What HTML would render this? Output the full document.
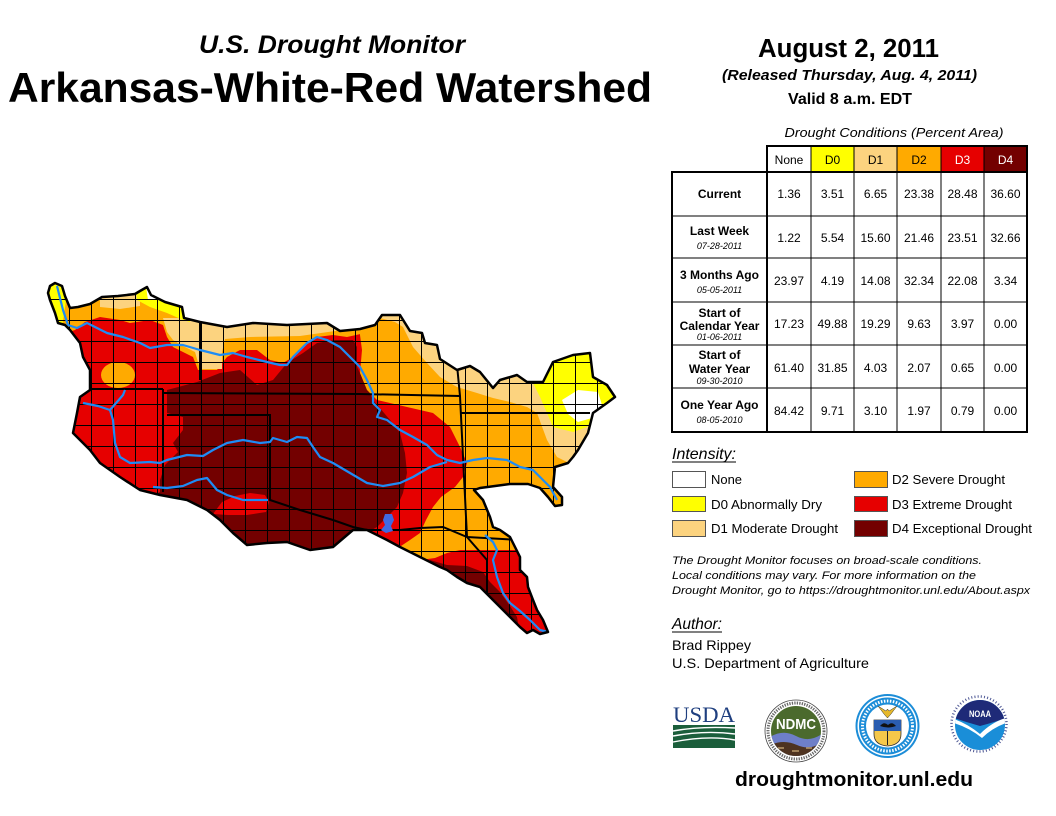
<!DOCTYPE html>
<html><head><meta charset="utf-8">
<style>
html,body{margin:0;padding:0;background:#fff;}
svg{display:block;}
</style></head>
<body>
<svg width="1056" height="816" viewBox="0 0 1056 816" xmlns="http://www.w3.org/2000/svg" font-family="'Liberation Sans', Arial, sans-serif">
<defs>
  <clipPath id="ws">
    <polygon id="outlineP" points="55,283 62,286 65,296 70,308 78,307 90,304 102,297 118,296 135,294 140,291 147,287 151,295 165,302 182,307 184,318 200,322 227,327 253,323 287,325 327,323 340,331 360,329 375,325 382,315 400,315 410,331 422,333 425,343 437,345 440,359 457,370 470,366 480,372 493,388 500,380 517,375 527,382 543,382 553,362 573,355 590,353 593,377 607,385 615,397 607,403 593,413 588,433 578,450 573,457 568,463 555,467 553,487 562,497 562,505 555,506 548,497 540,488 528,484 510,484 495,486 480,488 474,490 483,500 490,517 493,527 500,530 510,537 515,547 520,557 520,570 527,577 528,587 533,600 537,610 543,620 548,632 540,634 533,630 527,633 520,627 510,617 500,607 490,597 480,587 467,583 457,577 447,570 440,567 420,557 400,547 387,540 367,530 353,530 333,547 310,550 287,542 267,543 247,545 233,533 220,520 207,510 187,500 160,495 140,490 120,477 100,463 90,450 83,443 73,433 77,413 80,397 90,390 90,370 83,357 80,343 70,330 65,325 58,323 55,313 50,300 48,293 50,286"/>
  </clipPath>
  <pattern id="cty" patternUnits="userSpaceOnUse" width="22" height="21" x="3" y="5">
    <path d="M0 0.5H22M0.5 0V21" stroke="#000" stroke-width="1" fill="none"/>
  </pattern>
  <clipPath id="ndmcC"><circle cx="796" cy="731" r="25"/></clipPath>
  <clipPath id="noaaC"><circle cx="980" cy="725" r="25"/></clipPath>
</defs>

<!-- Titles -->
<text x="199" y="53" font-size="25" font-weight="bold" font-style="italic" textLength="266" lengthAdjust="spacingAndGlyphs">U.S. Drought Monitor</text>
<text x="8" y="102" font-size="42" font-weight="bold" textLength="644" lengthAdjust="spacingAndGlyphs">Arkansas-White-Red Watershed</text>
<text x="758" y="57" font-size="25.5" font-weight="bold" textLength="181" lengthAdjust="spacingAndGlyphs">August 2, 2011</text>
<text x="722" y="80" font-size="15" font-weight="bold" font-style="italic" textLength="255" lengthAdjust="spacingAndGlyphs">(Released Thursday, Aug. 4, 2011)</text>
<text x="788" y="104" font-size="15.5" font-weight="bold" textLength="124" lengthAdjust="spacingAndGlyphs">Valid 8 a.m. EDT</text>

<!-- Map -->
<g clip-path="url(#ws)">
  <rect x="30" y="270" width="620" height="380" fill="#E60000"/>
  <ellipse cx="118" cy="375" rx="17" ry="13" fill="#FFAA00"/>
  <polygon fill="#FFAA00" points="40,270 365,270 365,333 347,337 333,335 317,337 307,343 293,357 283,363 270,360 257,350 240,350 227,357 217,370 198,370 193,357 183,352 173,347 167,337 163,325 150,320 130,323 120,320 100,317 85,322 75,330 60,335 40,335"/>
  <polygon fill="#730000" points="167,390 197,382 220,373 240,370 257,385 273,380 287,363 303,353 317,343 335,340 353,340 357,347 357,367 367,387 373,400 390,420 400,433 405,453 407,473 403,493 397,507 387,517 377,527 363,535 350,545 345,600 150,600 150,497 160,492 160,480 165,465 178,452 173,443 183,430 183,417 167,413"/>
  <polygon fill="#E60000" points="213,514 222,502 235,496 250,493 265,495 269,502 266,512 247,515 228,515"/>
  <polygon fill="#FFAA00" points="360,270 650,270 650,548 520,550 460,550 447,553 435,558 420,560 405,556 398,548 410,540 420,533 426,520 433,507 441,497 455,487 463,477 467,463 460,447 450,427 433,413 407,407 377,400 367,390 360,373 362,350 360,335"/>
  <polygon fill="#730000" points="430,560 447,565 467,566 483,572 490,582 500,592 510,606 517,617 522,645 430,645"/>
  <polygon fill="#FCD37F" points="100,290 140,290 140,306 120,309 100,307"/>
  <polygon fill="#FCD37F" points="163,318 180,318 200,322 290,322 330,322 342,330 300,336 250,337 225,339 222,352 222,369 200,369 195,352 183,346 173,340 167,332"/>
  <polygon fill="#FCD37F" points="375,300 380,318 395,322 403,327 413,347 427,363 440,377 457,387 477,393 493,398 510,402 527,407 537,413 547,440 557,457 567,462 580,470 630,470 630,300"/>
  <polygon fill="#FFFF00" points="40,270 66,270 66,300 64,315 62,326 40,330"/>
  <polygon fill="#FFFF00" points="135,280 190,280 190,322 183,320 167,313 150,307 137,300"/>
  <polygon fill="#FFFF00" points="533,383 540,397 547,413 553,427 573,432 587,427 597,412 625,405 625,340 548,340"/>
  <polygon fill="#FFFFFF" points="562,400 578,390 598,392 602,405 592,418 578,422 568,414"/>
  <polygon fill="#FFFFFF" points="145,280 156,280 157,299 148,300"/>
  <rect x="30" y="270" width="620" height="380" fill="url(#cty)"/>
  <g stroke="#000" stroke-width="2" fill="none">
    <polyline points="90,389 163,389"/>
    <polyline points="163,389 163,492"/>
    <polyline points="200,320 200,380"/>
    <polyline points="163,393 360,394 460,396"/>
    <polyline points="457,365 460,396 467,537 487,560 487,595"/>
    <polyline points="460,413 590,413"/>
    <polyline points="167,415 270,415 270,500 300,510 333,520 353,527 367,530 400,530 420,528 443,527 467,537 520,540"/>
  </g>
</g>
<g stroke="#1E8CF5" stroke-width="2.2" fill="none" stroke-linejoin="round">
  <polyline points="57,286 60,298 63,310 68,325 77,328 87,323 97,328 107,333 123,337 140,343 150,348 167,345 183,345 200,350 220,355 233,353 247,357 267,362 280,365 287,365 293,357 307,343 317,337 327,340 340,347 350,357 360,367 367,380 373,393 373,403 380,410 377,417 387,420 400,430 413,437 427,445 437,455 447,460 460,463 473,460 487,458 507,460 520,467 533,470 543,480 550,487 557,500"/>
  <polyline points="83,403 98,406 110,410 113,420 115,443 120,457 130,463 150,462 160,463 167,460 187,455 203,456 213,450 227,443 243,440 260,443 270,442 273,438 287,442 297,437 307,438 313,447 320,457 333,463 350,473 367,483 383,486 400,483 413,477 430,467 447,462"/>
  <polyline points="110,410 117,402 123,395 125,390"/>
  <polyline points="153,487 167,488 183,486 197,480 207,478 217,490 227,495 243,500 257,500 268,500"/>
  <polyline points="485,535 493,542 497,550 493,560 497,577 503,593 510,603 520,611 530,620 540,630 548,632"/>
</g>
<polygon fill="#4169E1" points="385,514 392,514 394,520 391,526 393,531 386,533 381,530 385,525 383,520"/>
<use href="#outlineP" fill="none" stroke="#000" stroke-width="2.5" stroke-linejoin="round"/>

<!-- Table -->
<text x="894" y="137" font-size="13" font-style="italic" text-anchor="middle" textLength="219" lengthAdjust="spacingAndGlyphs">Drought Conditions (Percent Area)</text>
<rect x="811" y="146" width="43" height="26" fill="#FFFF00"/>
<rect x="854" y="146" width="43" height="26" fill="#FCD37F"/>
<rect x="897" y="146" width="44" height="26" fill="#FFAA00"/>
<rect x="941" y="146" width="43" height="26" fill="#E60000"/>
<rect x="984" y="146" width="43" height="26" fill="#730000"/>
<g stroke="#000" fill="none">
  <rect x="767" y="146" width="260" height="26" stroke-width="2"/>
  <rect x="672" y="172" width="355" height="260" stroke-width="2"/>
  <line x1="767" y1="172" x2="767" y2="432" stroke-width="2"/>
  <g stroke-width="1">
    <line x1="811" y1="146" x2="811" y2="432"/>
    <line x1="854" y1="146" x2="854" y2="432"/>
    <line x1="897" y1="146" x2="897" y2="432"/>
    <line x1="941" y1="146" x2="941" y2="432"/>
    <line x1="984" y1="146" x2="984" y2="432"/>
    <line x1="672" y1="216" x2="1027" y2="216"/>
    <line x1="672" y1="258" x2="1027" y2="258"/>
    <line x1="672" y1="302" x2="1027" y2="302"/>
    <line x1="672" y1="345" x2="1027" y2="345"/>
    <line x1="672" y1="388" x2="1027" y2="388"/>
  </g>
</g>
<g font-size="12" text-anchor="middle">
  <text x="789" y="164">None</text>
  <text x="832.5" y="164">D0</text>
  <text x="875.5" y="164">D1</text>
  <text x="919" y="164">D2</text>
  <text x="962.5" y="164" fill="#fff">D3</text>
  <text x="1005.5" y="164" fill="#fff">D4</text>
</g>
<g font-size="12" font-weight="bold" text-anchor="middle">
  <text x="719.5" y="198">Current</text>
  <text x="719.5" y="235">Last Week</text>
  <text x="719.5" y="279">3 Months Ago</text>
  <text x="719.5" y="317">Start of</text>
  <text x="719.5" y="330">Calendar Year</text>
  <text x="719.5" y="359">Start of</text>
  <text x="719.5" y="373">Water Year</text>
  <text x="719.5" y="409">One Year Ago</text>
</g>
<g font-size="9" font-style="italic" text-anchor="middle">
  <text x="719.5" y="249">07-28-2011</text>
  <text x="719.5" y="293">05-05-2011</text>
  <text x="719.5" y="340">01-06-2011</text>
  <text x="719.5" y="384">09-30-2010</text>
  <text x="719.5" y="423">08-05-2010</text>
</g>
<g font-size="12" text-anchor="middle">
  <text x="789" y="198">1.36</text><text x="832.5" y="198">3.51</text><text x="875.5" y="198">6.65</text><text x="919" y="198">23.38</text><text x="962.5" y="198">28.48</text><text x="1005.5" y="198">36.60</text>
  <text x="789" y="242">1.22</text><text x="832.5" y="242">5.54</text><text x="875.5" y="242">15.60</text><text x="919" y="242">21.46</text><text x="962.5" y="242">23.51</text><text x="1005.5" y="242">32.66</text>
  <text x="789" y="285">23.97</text><text x="832.5" y="285">4.19</text><text x="875.5" y="285">14.08</text><text x="919" y="285">32.34</text><text x="962.5" y="285">22.08</text><text x="1005.5" y="285">3.34</text>
  <text x="789" y="328">17.23</text><text x="832.5" y="328">49.88</text><text x="875.5" y="328">19.29</text><text x="919" y="328">9.63</text><text x="962.5" y="328">3.97</text><text x="1005.5" y="328">0.00</text>
  <text x="789" y="372">61.40</text><text x="832.5" y="372">31.85</text><text x="875.5" y="372">4.03</text><text x="919" y="372">2.07</text><text x="962.5" y="372">0.65</text><text x="1005.5" y="372">0.00</text>
  <text x="789" y="415">84.42</text><text x="832.5" y="415">9.71</text><text x="875.5" y="415">3.10</text><text x="919" y="415">1.97</text><text x="962.5" y="415">0.79</text><text x="1005.5" y="415">0.00</text>
</g>

<!-- Legend -->
<text x="672" y="459" font-size="16" font-style="italic" textLength="64" lengthAdjust="spacingAndGlyphs">Intensity:</text>
<line x1="672" y1="462" x2="736" y2="462" stroke="#000" stroke-width="1"/>
<g stroke="#555" stroke-width="1">
  <rect x="672.5" y="471.5" width="33" height="16" fill="#FFFFFF"/>
  <rect x="672.5" y="496.5" width="33" height="15" fill="#FFFF00"/>
  <rect x="672.5" y="520.5" width="33" height="16" fill="#FCD37F"/>
  <rect x="854.5" y="471.5" width="33" height="16" fill="#FFAA00"/>
  <rect x="854.5" y="496.5" width="33" height="15" fill="#E60000"/>
  <rect x="854.5" y="520.5" width="33" height="16" fill="#730000"/>
</g>
<g font-size="13">
  <text x="711" y="484" textLength="31" lengthAdjust="spacingAndGlyphs">None</text>
  <text x="711" y="509" textLength="111" lengthAdjust="spacingAndGlyphs">D0 Abnormally Dry</text>
  <text x="711" y="533" textLength="127" lengthAdjust="spacingAndGlyphs">D1 Moderate Drought</text>
  <text x="892" y="484" textLength="113" lengthAdjust="spacingAndGlyphs">D2 Severe Drought</text>
  <text x="892" y="509" textLength="120" lengthAdjust="spacingAndGlyphs">D3 Extreme Drought</text>
  <text x="892" y="533" textLength="140" lengthAdjust="spacingAndGlyphs">D4 Exceptional Drought</text>
</g>
<g font-size="11" font-style="italic">
  <text x="672" y="564" textLength="310" lengthAdjust="spacingAndGlyphs">The Drought Monitor focuses on broad-scale conditions.</text>
  <text x="672" y="579" textLength="304" lengthAdjust="spacingAndGlyphs">Local conditions may vary. For more information on the</text>
  <text x="672" y="594" textLength="358" lengthAdjust="spacingAndGlyphs">Drought Monitor, go to https://droughtmonitor.unl.edu/About.aspx</text>
</g>
<text x="672" y="629" font-size="16" font-style="italic" textLength="50" lengthAdjust="spacingAndGlyphs">Author:</text>
<line x1="672" y1="632" x2="722" y2="632" stroke="#000" stroke-width="1"/>
<text x="672" y="650" font-size="14" textLength="79" lengthAdjust="spacingAndGlyphs">Brad Rippey</text>
<text x="672" y="668" font-size="14" textLength="197" lengthAdjust="spacingAndGlyphs">U.S. Department of Agriculture</text>

<!-- USDA logo -->
<text x="673" y="722" font-size="22" fill="#1F3F7F" textLength="62" lengthAdjust="spacingAndGlyphs" font-family="'Liberation Serif', serif">USDA</text>
<rect x="673" y="725" width="62" height="23" fill="#1B5E3B"/>
<path d="M673 731 Q700 726 735 728 M673 736 Q705 730 735 734 M673 742 Q708 735 735 740" stroke="#fff" stroke-width="1.4" fill="none"/>

<!-- NDMC logo -->
<circle cx="796" cy="731" r="31" fill="#fff" stroke="#444" stroke-width="0.8"/>
<circle cx="796" cy="731" r="28" fill="none" stroke="#444" stroke-width="3" stroke-dasharray="1.3 1.2" opacity="0.8"/>
<g clip-path="url(#ndmcC)">
  <rect x="770" y="705" width="52" height="52" fill="#4B6A2D"/>
  <path d="M770 737 Q783 729 796 736 T822 734 L822 760 L770 760 Z" fill="#6E7FC8"/>
  <path d="M770 745 Q784 739 797 745 T822 742 L822 760 L770 760 Z" fill="#4E3320"/>
  <path d="M778 748 h6 M792 751 h7 M806 748 h6" stroke="#B89A6A" stroke-width="1.5"/>
</g>
<text x="796" y="729" font-size="15" font-weight="bold" fill="#fff" text-anchor="middle" textLength="40" lengthAdjust="spacingAndGlyphs">NDMC</text>

<!-- Commerce seal -->
<circle cx="887.5" cy="726" r="32" fill="#1C8DD8"/>
<circle cx="887.5" cy="726" r="30" fill="#fff"/>
<circle cx="887.5" cy="726" r="28.5" fill="#1C8DD8"/>
<circle cx="887.5" cy="726" r="25" fill="none" stroke="#fff" stroke-width="3" stroke-dasharray="1.5 1.5"/>
<circle cx="887.5" cy="726" r="21.5" fill="#fff"/>
<path d="M874 720 H901 V734 Q901 745 887.5 746 Q874 745 874 734 Z" fill="#F5C84A" stroke="#333" stroke-width="0.8"/>
<path d="M874 720 H901 V731 H874 Z" fill="#2A5DB0"/>
<path d="M880 726 q4 -5 8 -1 q4 -4 8 1 q-8 3 -16 0 z" fill="#111"/>
<line x1="887.5" y1="731" x2="887.5" y2="745" stroke="#222" stroke-width="1"/>
<path d="M878 706 L884 714 L887.5 718 L891 714 L897 706 L889 711 L887.5 709 L886 711 Z" fill="#E6B82A" stroke="#333" stroke-width="0.5"/>

<!-- NOAA logo -->
<circle cx="978.5" cy="724" r="29" fill="#fff"/>
<circle cx="979" cy="724" r="27.5" fill="none" stroke="#1E2A78" stroke-width="2.5" stroke-dasharray="1 2.2" opacity="0.8"/>
<g clip-path="url(#noaaC)">
  <rect x="954" y="699" width="52" height="52" fill="#1A8ED8"/>
  <path d="M954 699 H1006 V718 Q995 722 980 726 Q966 722 954 718 Z" fill="#1E2A78"/>
  <path d="M954 719 Q968 724 980 734 Q992 722 1006 718 L1006 723 Q992 728 982 738 Q970 728 954 723 Z" fill="#fff"/>
</g>
<text x="980" y="717" font-size="9.5" font-weight="bold" fill="#fff" text-anchor="middle" textLength="22" lengthAdjust="spacingAndGlyphs">NOAA</text>

<text x="735" y="786" font-size="20.5" font-weight="bold" textLength="238" lengthAdjust="spacingAndGlyphs">droughtmonitor.unl.edu</text>
</svg>
</body></html>
